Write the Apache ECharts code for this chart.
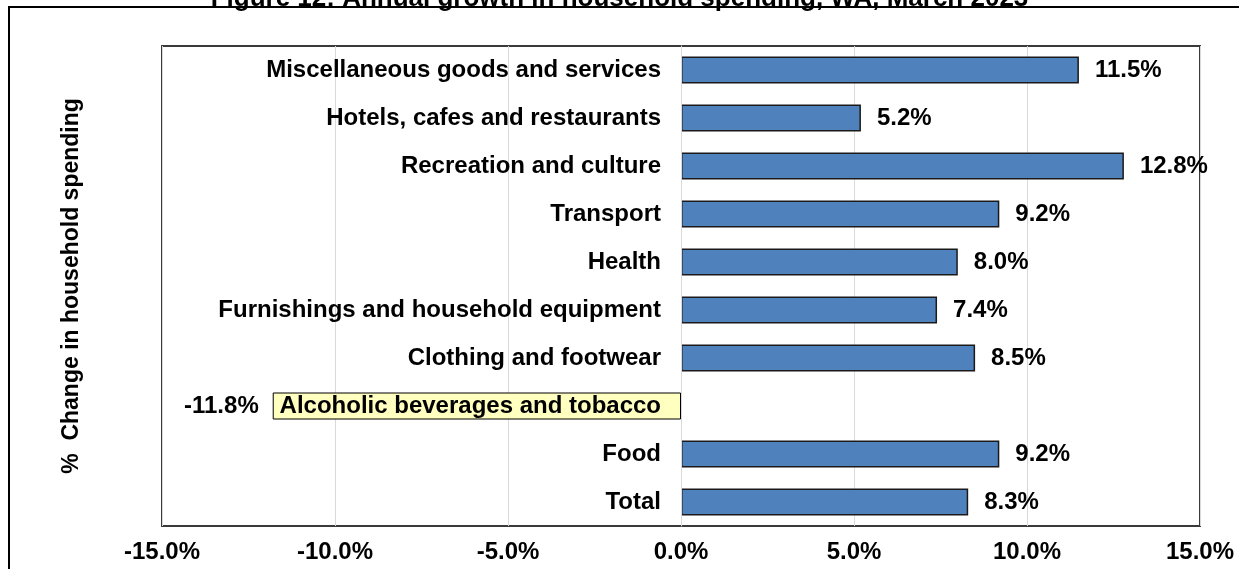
<!DOCTYPE html>
<html>
<head>
<meta charset="utf-8">
<script src="https://cdn.jsdelivr.net/npm/echarts@6/dist/echarts.min.js"></script>
<style>
  html, body { margin: 0; padding: 0; background: #fff; }
  #chart { width: 1239px; height: 569px; }
</style>
</head>
<body>
<div id="chart"></div>
<script>
// categories bottom -> top (category axis starts at the bottom)
var categories = [
  'Total',
  'Food',
  'Alcoholic beverages and tobacco',
  'Clothing and footwear',
  'Furnishings and household equipment',
  'Health',
  'Transport',
  'Recreation and culture',
  'Hotels, cafes and restaurants',
  'Miscellaneous goods and services'
];
var growth = [8.3, 9.2, -11.8, 8.5, 7.4, 8.0, 9.2, 12.8, 5.2, 11.5];
var xTicks = [-15, -10, -5, 0, 5, 10, 15];

var FONT = 'Arial, "Liberation Sans", sans-serif';
var GRID_LEFT = 162, GRID_RIGHT = 39;
var plotW = 1239 - GRID_LEFT - GRID_RIGHT;
// shift the category axis from the grid's left edge onto x = 0
var zeroOffset = -plotW * (0 - xTicks[0]) / (xTicks[xTicks.length - 1] - xTicks[0]);

var chart = echarts.init(document.getElementById('chart'));

var barData = growth.map(function (v) {
  if (v < 0) {
    // the negative bar is drawn as the pale yellow box holding its label
    return {
      value: v,
      itemStyle: { color: '#FFFFC0', borderColor: '#000', borderWidth: 1 },
      label: { position: 'left', distance: 14 }
    };
  }
  return v;
});

chart.setOption({
  backgroundColor: '#fff',
  animation: false,
  title: {
    text: 'Figure 12: Annual growth in household spending, WA, March 2023',
    left: 'center',
    top: -19,
    textStyle: { fontFamily: FONT, fontSize: 26, fontWeight: 'bold', color: '#000' }
  },
  graphic: [
    {
      type: 'rect',
      shape: { x: 9, y: 7, width: 1240, height: 580 },
      style: { fill: 'none', stroke: '#000', lineWidth: 2 },
      z: 0
    },
    {
      type: 'text',
      x: 72,
      y: 286,
      rotation: Math.PI / 2,
      style: {
        text: '%  Change in household spending',
        font: 'bold 23px ' + FONT,
        fill: '#000',
        align: 'center',
        verticalAlign: 'middle'
      }
    }
  ],
  grid: {
    left: GRID_LEFT,
    right: GRID_RIGHT,
    top: 46,
    bottom: 43,
    containLabel: false,
    outerBoundsMode: 'none',
    show: true,
    borderColor: '#3a3a3a',
    borderWidth: 2,
    backgroundColor: 'transparent'
  },
  xAxis: {
    type: 'value',
    min: xTicks[0],
    max: xTicks[xTicks.length - 1],
    interval: 5,
    axisLine: { show: false },
    axisTick: { show: false },
    splitLine: { show: true, lineStyle: { color: '#d9d9d9', width: 1 } },
    axisLabel: {
      margin: 14,
      fontFamily: FONT,
      fontSize: 24,
      fontWeight: 'bold',
      color: '#000',
      formatter: function (v) { return v.toFixed(1) + '%'; }
    }
  },
  yAxis: {
    type: 'category',
    data: categories,
    offset: zeroOffset,
    axisLine: { show: true, onZero: false, lineStyle: { color: '#d9d9d9', width: 1 } },
    axisTick: { show: false },
    splitLine: { show: false },
    z: 5,
    axisLabel: {
      margin: 20,
      fontFamily: FONT,
      fontSize: 24,
      fontWeight: 'bold',
      color: '#000'
    }
  },
  series: [
    {
      type: 'bar',
      data: barData,
      barWidth: 27,
      z: 2,
      itemStyle: { color: '#4F81BD', borderColor: '#1a1a1a', borderWidth: 1.5 },
      label: {
        show: true,
        position: 'right',
        distance: 16,
        fontFamily: FONT,
        fontSize: 24,
        fontWeight: 'bold',
        color: '#000',
        formatter: function (p) { return p.value.toFixed(1) + '%'; }
      }
    }
  ]
});
</script>
</body>
</html>
